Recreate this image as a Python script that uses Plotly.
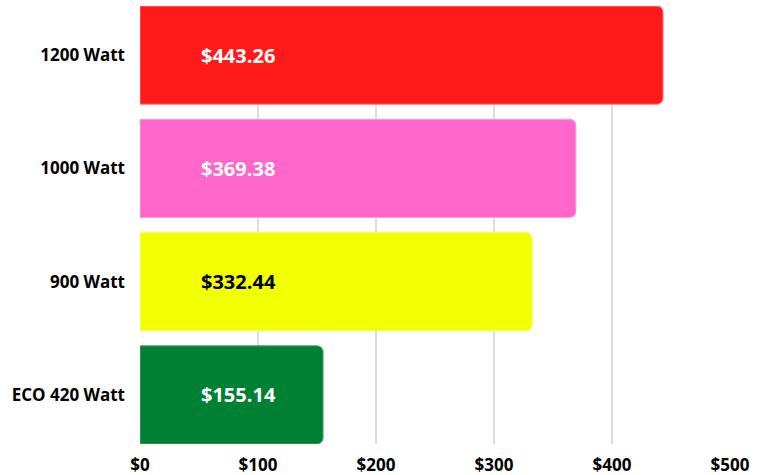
import plotly.graph_objects as go

categories = ["ECO 420 Watt", "900 Watt", "1000 Watt", "1200 Watt"]
values = [155.14, 332.44, 369.38, 443.26]
bar_colors = ["#008033", "#F2FF00", "#FF66CC", "#FF1A1A"]
line_colors = ["#4da66f", "#f6ff66", "#ff99dd", "#ff7777"]
label_colors = ["white", "black", "white", "white"]
tick_vals = [0, 100, 200, 300, 400, 500]
tick_text = ["$0", "$100", "$200", "$300", "$400", "$500"]

FONT = "Open Sans"

fig = go.Figure()
fig.add_trace(go.Bar(
    y=categories, x=values, orientation="h",
    marker=dict(color=bar_colors, line=dict(color=line_colors, width=1), cornerradius=6),
    hoverinfo="skip",
))

for cat, v, c in zip(categories, values, label_colors):
    fig.add_annotation(
        x=0, y=cat, xref="x", yref="y",
        text=f"<b>${v:,.2f}</b>", showarrow=False,
        xanchor="left", xshift=59,
        font=dict(family=FONT, size=20, color=c),
    )

bargap = 0.133
fig.update_layout(
    width=762, height=475,
    margin=dict(l=140, r=32, t=6, b=31),
    paper_bgcolor="white", plot_bgcolor="white",
    bargap=bargap,
    showlegend=False,
    xaxis=dict(
        range=[0, 500], tickvals=tick_vals, ticktext=tick_text,
        showgrid=True, gridcolor="#dddddd", gridwidth=1.5,
        zeroline=False, showline=False, automargin=False,
        tickfont=dict(family=FONT, size=17, color="black", weight="bold"),
        ticklabelstandoff=9,
    ),
    yaxis=dict(
        range=[-0.5 + bargap / 2, 3.5 - bargap / 2],
        showgrid=False, zeroline=False, showline=False, automargin=False,
        tickfont=dict(family=FONT, size=17, color="black", weight="bold"),
        ticklabelstandoff=14, ticks="",
    ),
)

fig.write_html(
    "out.html",
    config={"displayModeBar": False},
    post_script="document.body.style.margin='0';document.body.style.padding='0';",
)
